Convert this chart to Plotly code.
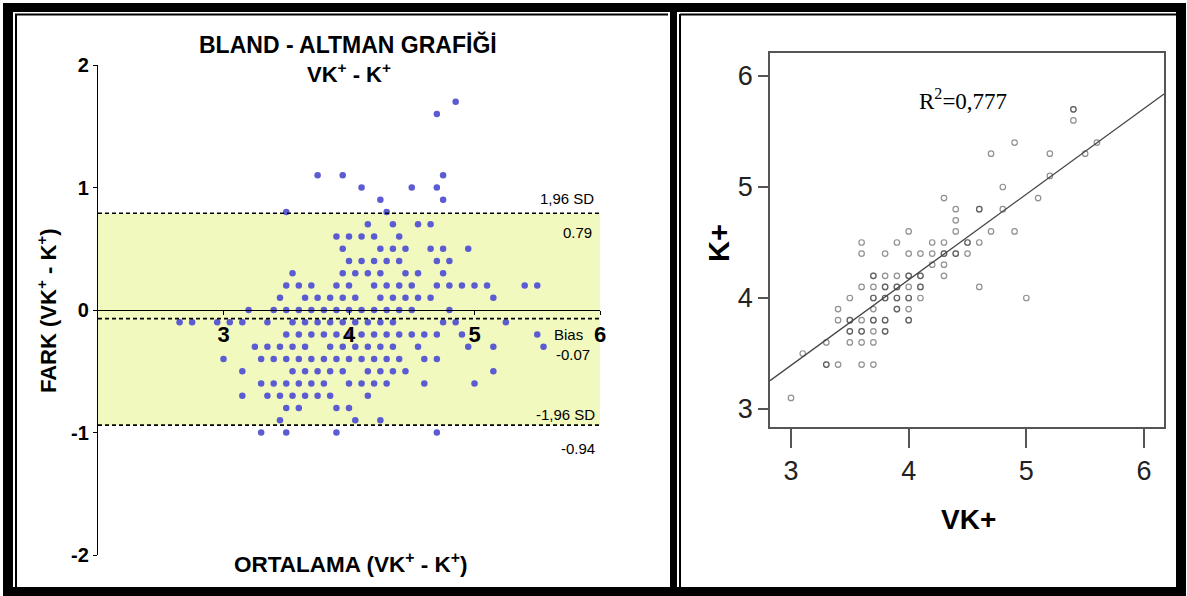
import plotly.graph_objects as go

# ---------------- Bland-Altman data (difference row -> list of means) ----------------
BA_ROWS = {
    1.7: [4.85],
    1.6: [4.7],
    1.1: [3.75, 3.95, 4.75],
    1.0: [4.1, 4.5, 4.7],
    0.9: [4.25, 4.75],
    0.8: [3.5, 4.3],
    0.7: [4.15, 4.35, 4.55, 4.65],
    0.6: [3.9, 4.0, 4.1, 4.2, 4.4],
    0.5: [3.95, 4.25, 4.35, 4.45, 4.65, 4.75, 4.95],
    0.4: [4.0, 4.1, 4.2, 4.3, 4.4, 4.7, 4.8],
    0.3: [3.55, 3.95, 4.05, 4.15, 4.25, 4.45, 4.55, 4.75],
    0.2: [3.5, 3.6, 3.7, 3.9, 4.0, 4.2, 4.3, 4.4, 4.5, 4.7, 4.8, 4.9, 5.0, 5.1, 5.4, 5.5],
    0.1: [3.45, 3.65, 3.75, 3.85, 3.95, 4.05, 4.25, 4.35, 4.45, 4.55, 4.65, 5.15],
    0.0: [3.2, 3.4, 3.5, 3.6, 3.7, 3.8, 3.9, 4.0, 4.1, 4.2, 4.3, 4.4, 4.5, 4.8],
    -0.1: [2.65, 2.75, 2.95, 3.05, 3.15, 3.35, 3.55, 3.65, 3.75, 3.85, 3.95, 4.05,
           4.15, 4.25, 4.35, 4.75, 4.85, 5.25],
    -0.2: [3.5, 3.6, 3.7, 3.8, 3.9, 4.0, 4.1, 4.2, 4.3, 4.4, 4.5, 4.6, 4.7, 4.9, 5.5],
    -0.3: [3.25, 3.35, 3.45, 3.55, 3.65, 3.85, 3.95, 4.05, 4.15, 4.25, 4.35, 4.55,
           4.95, 5.15, 5.55],
    -0.4: [3.0, 3.3, 3.4, 3.5, 3.6, 3.7, 3.8, 3.9, 4.0, 4.1, 4.2, 4.3, 4.4, 4.6, 4.7],
    -0.5: [3.15, 3.55, 3.65, 3.75, 3.85, 3.95, 4.15, 4.25, 4.35, 4.45, 5.15],
    -0.6: [3.3, 3.4, 3.5, 3.6, 3.7, 3.8, 4.0, 4.1, 4.2, 4.3, 4.6, 5.0],
    -0.7: [3.15, 3.35, 3.45, 3.55, 3.65, 3.75, 3.85, 4.15],
    -0.8: [3.5, 3.6, 3.9, 4.0],
    -0.9: [3.45, 4.05, 4.25],
    -1.0: [3.3, 3.5, 3.9, 4.7],
}
ba_mean = [m for d, ms in BA_ROWS.items() for m in ms]
ba_diff = [d for d, ms in BA_ROWS.items() for _ in ms]

BIAS = -0.07
UPPER_LOA = 0.79
LOWER_LOA = -0.94
BA_TICKS_X = [3, 4, 5, 6]
BA_TICKS_Y = [-2, -1, 0, 1, 2]
BA_TICK_TEXT_Y = ["-2", "-1", "0", "1", "2"]

# ---------------- Correlation data (VK+ vs K+), repeated pairs listed twice ----------------
VK = [3.0, 3.1,
      3.3, 3.3, 3.4, 3.6, 3.7,
      3.3, 3.5, 3.6, 3.7,
      3.5, 3.5, 3.6, 3.6, 3.7, 3.8, 3.8,
      3.4, 3.5, 3.5, 3.6, 3.7, 3.7, 3.8, 3.8, 4.0, 4.0,
      3.4, 3.7, 3.9, 3.9, 4.0,
      3.5, 3.7, 3.7, 3.8, 3.8, 3.9, 3.9, 4.0, 4.0, 4.1, 5.0,
      3.6, 3.7, 3.8, 3.8, 3.9, 3.9, 4.0, 4.1, 4.1, 4.6,
      3.7, 3.7, 3.8, 3.9, 4.0, 4.0, 4.1, 4.1, 4.3,
      4.2, 4.3,
      3.6, 3.8, 4.0, 4.1, 4.2, 4.3, 4.3, 4.4, 4.4, 4.5,
      3.6, 3.9, 4.2, 4.3, 4.5, 4.5, 4.6,
      4.0, 4.4, 4.7, 4.9,
      4.4,
      4.4, 4.6, 4.6, 4.8,
      4.3, 5.1,
      4.8,
      5.2,
      4.7, 5.2, 5.5,
      4.9, 5.6,
      5.4,
      5.4, 5.4]
K = [3.1, 3.5,
     3.4, 3.4, 3.4, 3.4, 3.4,
     3.6, 3.6, 3.6, 3.6,
     3.7, 3.7, 3.7, 3.7, 3.7, 3.7, 3.7,
     3.8, 3.8, 3.8, 3.8, 3.8, 3.8, 3.8, 3.8, 3.8, 3.8,
     3.9, 3.9, 3.9, 3.9, 3.9,
     4.0, 4.0, 4.0, 4.0, 4.0, 4.0, 4.0, 4.0, 4.0, 4.0, 4.0,
     4.1, 4.1, 4.1, 4.1, 4.1, 4.1, 4.1, 4.1, 4.1, 4.1,
     4.2, 4.2, 4.2, 4.2, 4.2, 4.2, 4.2, 4.2, 4.2,
     4.3, 4.3,
     4.4, 4.4, 4.4, 4.4, 4.4, 4.4, 4.4, 4.4, 4.4, 4.4,
     4.5, 4.5, 4.5, 4.5, 4.5, 4.5, 4.5,
     4.6, 4.6, 4.6, 4.6,
     4.7,
     4.8, 4.8, 4.8, 4.8,
     4.9, 4.9,
     5.0,
     5.1,
     5.3, 5.3, 5.3,
     5.4, 5.4,
     5.6,
     5.7, 5.7]

FIT_INTERCEPT = 1.08
FIT_SLOPE = 0.771
R_SQUARED = "0,777"
SC_TICKS = [3, 4, 5, 6]
SC_X_RANGE = [2.8215, 6.170]
SC_Y_RANGE = [2.838, 6.207]

# ---------------- figure geometry helpers (pixels -> paper) ----------------
W, H = 1187, 596


def px(x):
    return x / W


def py(y):
    return 1 - y / H


SANS = "Liberation Sans, Arial, sans-serif"
SERIF = "Liberation Serif, Times New Roman, serif"

fig = go.Figure()

# Bland-Altman scatter
fig.add_trace(go.Scatter(
    x=ba_mean, y=ba_diff, mode="markers", xaxis="x", yaxis="y",
    marker=dict(size=6.5, color="#5B5BD2"), hoverinfo="x+y", showlegend=False,
))

# Correlation scatter
fig.add_trace(go.Scatter(
    x=VK, y=K, mode="markers", xaxis="x2", yaxis="y2",
    marker=dict(symbol="circle-open", size=5.5,
                line=dict(width=1.2, color="rgba(55,55,55,0.55)"),
                color="rgba(55,55,55,0.55)"),
    showlegend=False,
))

# Regression line across the full x range
fit_x = SC_X_RANGE
fit_y = [FIT_INTERCEPT + FIT_SLOPE * v for v in fit_x]
fig.add_trace(go.Scatter(
    x=fit_x, y=fit_y, mode="lines", xaxis="x2", yaxis="y2",
    line=dict(color="#444444", width=1.3), showlegend=False, hoverinfo="skip",
))

shapes = []
# limits-of-agreement band
shapes.append(dict(type="rect", xref="x", yref="y", x0=2, x1=6, y0=LOWER_LOA, y1=UPPER_LOA,
                   fillcolor="#F2F9BF", line=dict(width=0), layer="below"))
for yv in (UPPER_LOA, BIAS, LOWER_LOA):
    shapes.append(dict(type="line", xref="x", yref="y", x0=2, x1=6, y0=yv, y1=yv,
                       line=dict(color="black", width=1.6, dash="4px,3px")))

# black panel frames
for x0, x1, y0, y1 in [
    (3, 1186, 3, 12), (3, 1186, 587, 596),
    (3, 13, 3, 596), (670, 677, 3, 596), (1176, 1186, 3, 596),
]:
    shapes.append(dict(type="rect", xref="paper", yref="paper",
                       x0=px(x0), x1=px(x1), y0=py(y1), y1=py(y0),
                       fillcolor="black", line=dict(width=0), layer="above"))
for x0, x1, y0, y1 in [
    (15, 668, 14.5, 14.5), (16, 16, 14, 587),
    (680, 1176, 14.5, 14.5), (680, 680, 14, 587),
]:
    shapes.append(dict(type="line", xref="paper", yref="paper",
                       x0=px(x0), x1=px(x1), y0=py(y0), y1=py(y1),
                       line=dict(color="black", width=2)))

ann = []


def text(x, y, s, size, family=SANS, xanchor="center", angle=0, color="black"):
    ann.append(dict(x=px(x), y=py(y), xref="paper", yref="paper", text=s,
                    showarrow=False, xanchor=xanchor, yanchor="middle",
                    textangle=angle, font=dict(size=size, family=family, color=color)))


text(348, 44, "<b>BLAND - ALTMAN GRAFİĞİ</b>", 23)
text(349, 73, "<b>VK<sup>+</sup> - K<sup>+</sup></b>", 22)
text(47, 311, "<b>FARK (VK<sup>+</sup> - K<sup>+</sup>)</b>", 22, angle=-90)
text(350, 563, "<b>ORTALAMA (VK<sup>+</sup> - K<sup>+</sup>)</b>", 22.5)

text(596, 199, "1,96 SD", 15, xanchor="right")
text(594, 232, f"{UPPER_LOA:.2f}", 15, xanchor="right")
text(552, 334, "Bias", 15, xanchor="left")
text(554, 354, f"{BIAS:.2f}", 15, xanchor="left")
text(597, 414, "-1,96 SD", 15, xanchor="right")
text(597, 448, f"{LOWER_LOA:.2f}", 15, xanchor="right")

text(963, 100, f"R<sup>2</sup>={R_SQUARED}", 23, family=SERIF)
text(719, 243, "<b>K+</b>", 29, angle=-90)
text(968, 519, "<b>VK+</b>", 28)

fig.update_layout(
    width=W, height=H, margin=dict(l=0, r=0, t=0, b=0, pad=0, autoexpand=False),
    paper_bgcolor="white", plot_bgcolor="rgba(0,0,0,0)",
    showlegend=False, shapes=shapes, annotations=ann,
    xaxis=dict(domain=[px(98), px(600)], range=[2, 6], anchor="free",
               position=(py(555) + py(65)) / 2, automargin=False,
               showline=True, linecolor="black", linewidth=1.2,
               ticks="outside", ticklen=4, tickcolor="black",
               tickvals=BA_TICKS_X, showgrid=False, zeroline=False,
               tickfont=dict(size=22, family=SANS, color="black", weight="bold")),
    yaxis=dict(domain=[py(555), py(65)], range=[-2, 2], anchor="x", automargin=False,
               showline=True, linecolor="black", linewidth=1.2,
               ticks="outside", ticklen=4, tickcolor="black",
               tickvals=BA_TICKS_Y, ticktext=BA_TICK_TEXT_Y,
               showgrid=False, zeroline=False,
               tickfont=dict(size=20, family=SANS, color="black", weight="bold")),
    xaxis2=dict(domain=[px(770), px(1164)], range=SC_X_RANGE, anchor="y2", automargin=False,
                showline=True, mirror=True, linecolor="#555555", linewidth=1.5,
                ticks="outside", ticklen=19, tickwidth=1.6, tickcolor="#555555",
                tickvals=SC_TICKS, showgrid=False, zeroline=False,
                tickfont=dict(size=27, family=SANS, color="#222222")),
    yaxis2=dict(domain=[py(427), py(53)], range=SC_Y_RANGE, anchor="x2", automargin=False,
                showline=True, mirror=True, linecolor="#555555", linewidth=1.5,
                ticks="outside", ticklen=10, tickwidth=1.6, tickcolor="#555555",
                tickvals=SC_TICKS, showgrid=False, zeroline=False,
                tickfont=dict(size=27, family=SANS, color="#222222")),
)

fig.write_html("out.html")
